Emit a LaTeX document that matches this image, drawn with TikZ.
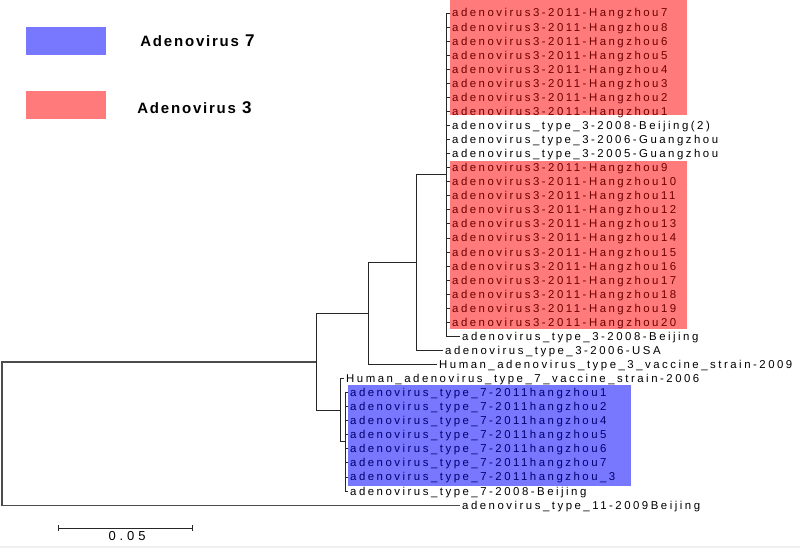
\documentclass[tikz,border=0pt]{standalone}
\usepackage{fontspec}
\setmainfont{Liberation Sans}
\newfontfamily\labelfont[LetterSpace=22]{Liberation Sans}
\newfontfamily\keyfont[LetterSpace=12]{Liberation Sans}
\newfontfamily\barfont[LetterSpace=30]{Liberation Sans}
\usetikzlibrary{arrows.meta,positioning}

\definecolor{redbox}{RGB}{255,122,122}
\definecolor{bluebox}{RGB}{120,120,255}
\definecolor{redtext}{RGB}{110,0,0}
\definecolor{bluetext}{RGB}{0,0,110}

\tikzset{
  leaf/.style={anchor=west, inner xsep=2pt, inner ysep=0pt, text height=8pt, text depth=0pt,
    font=\labelfont\fontsize{11.4}{13}\selectfont},
  branch/.style={draw=black!85, line width=0.9pt},
  keybox/.style={minimum width=80.5pt, minimum height=28pt, inner sep=0pt},
  keytext/.style={inner sep=0pt, anchor=west, font=\keyfont\bfseries\fontsize{15}{17}\selectfont},
}

\begin{document}
\begin{tikzpicture}[x=1pt, y=-1pt]
  \useasboundingbox (0,0) rectangle (800,548);
  \fill[black!6] (0,546) rectangle (800,548);

  % 图例
  \node[keybox, fill=bluebox] (key7) at (66.2,41.2) {};
  \node[keytext, right=33.5pt of key7] (lab7) {Adenovirus {\fontsize{17}{17}\selectfont 7}};
  \node[keybox, fill=redbox] (key3) at (66.2,105) {};
  \node[keytext, right=30.5pt of key3, yshift=-3pt] (lab3) {Adenovirus {\fontsize{17}{17}\selectfont 3}};

  % 高亮框
  \fill[redbox] (450,0) rectangle (687,115);
  \fill[redbox] (450,161.5) rectangle (687,328.5);
  \fill[bluebox] (347.5,384.5) rectangle (631,486);

  % 内部节点
  \coordinate (F) at (446,174.7);
  \coordinate (E) at (416,262.6);
  \coordinate (B) at (368,313.5);
  \coordinate (D) at (345,441.8);
  \coordinate (C) at (340,410.2);
  \coordinate (A) at (316,361.9);
  \coordinate (R) at (2,433.5);

  % 3型分支
  \foreach \n [count=\i from 0] in {7,8,6,5,4,3,2,1} {
    \node[leaf, text=redtext] (h\n) at (450,{13+14.06*\i}) {adenovirus3-2011-Hangzhou\n};
    \draw[branch] (F) |- (h\n.west);
  }
  \node[leaf] (bj2) at (450,{13+14.06*8}) {adenovirus\_type\_3-2008-Beijing(2)};
  \node[leaf] (gz06) at (450,{13+14.06*9}) {adenovirus\_type\_3-2006-Guangzhou};
  \node[leaf] (gz05) at (450,{13+14.06*10}) {adenovirus\_type\_3-2005-Guangzhou};
  \foreach \n [count=\i from 11] in {9,...,20} {
    \node[leaf, text=redtext] (h\n) at (450,{13+14.06*\i}) {adenovirus3-2011-Hangzhou\n};
    \draw[branch] (F) |- (h\n.west);
  }
  \node[leaf] (bj08) at (460,{13+14.06*23}) {adenovirus\_type\_3-2008-Beijing};
  \node[leaf] (usa) at (443,{13+14.06*24}) {adenovirus\_type\_3-2006-USA};
  \node[leaf] (vac3) at (437,{13+14.06*25}) {Human\_adenovirus\_type\_3\_vaccine\_strain-2009};
  \draw[branch] (F) |- (bj2.west) (F) |- (gz06.west) (F) |- (gz05.west) (F) |- (bj08.west);
  \draw[branch] (E) |- (F) (E) |- (usa.west);
  \draw[branch] (B) |- (E) (B) |- (vac3.west);

  % 7型分支
  \node[leaf] (vac7) at (344,{13+14.06*26}) {Human\_adenovirus\_type\_7\_vaccine\_strain-2006};
  \foreach \n [count=\i from 27] in {1,2,4,5,6,7,\_3} {
    \node[leaf, text=bluetext] (t\i) at (348,{13+14.06*\i}) {adenovirus\_type\_7-2011hangzhou\n};
    \draw[branch] (D) |- (t\i.west);
  }
  \node[leaf] (bj7) at (348,{13+14.06*34}) {adenovirus\_type\_7-2008-Beijing};
  \draw[branch] (D) |- (bj7.west);
  \draw[branch] (C) |- (vac7.west) (C) |- (D);
  \draw[branch] (A) |- (B) (A) |- (C);

  % 根与外群
  \node[leaf] (ad11) at (460,{13+14.06*35}) {adenovirus\_type\_11-2009Beijing};
  \draw[branch, draw=black!70, line width=1.2pt] (R) |- (A) (R) |- (ad11.west);

  % 标尺
  \coordinate (s0) at (58,528);
  \coordinate (s1) at (193,528);
  \draw[branch, {Bar[width=6pt]}-{Bar[width=6pt]}] (s0) -- (s1);
  \node[inner sep=0pt, text height=8pt, text depth=0pt, font=\barfont\fontsize{13}{13}\selectfont] (sbar) at (127,536.5) {0.05};
\end{tikzpicture}
\end{document}
